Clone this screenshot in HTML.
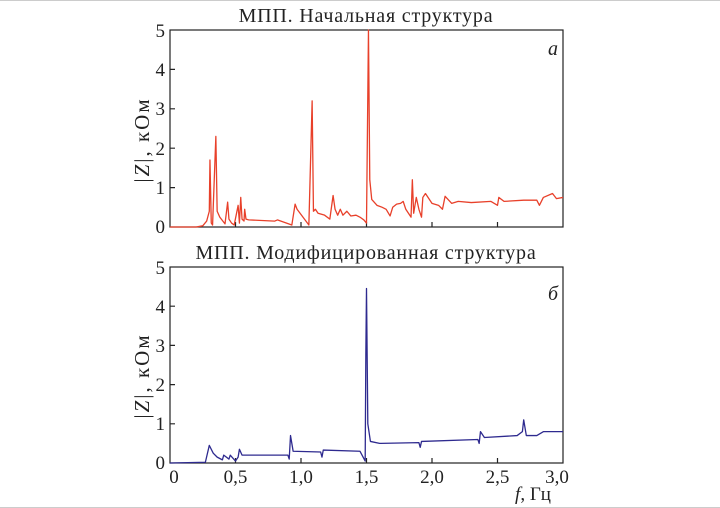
<!DOCTYPE html>
<html><head><meta charset="utf-8"><style>
html,body{margin:0;padding:0;background:#fff}
svg{display:block;font-family:"Liberation Serif","DejaVu Serif",serif}
</style></head><body>
<svg width="720" height="508" viewBox="0 0 720 508" xmlns="http://www.w3.org/2000/svg">
<rect x="0" y="0" width="720" height="508" fill="#fff"/>
<line x1="0" y1="0.5" x2="720" y2="0.5" stroke="#ccc"/>
<line x1="0" y1="507.5" x2="720" y2="507.5" stroke="#ccc"/>
<g font-size="20" fill="#222" letter-spacing="0.8">
<text x="366" y="22" text-anchor="middle">МПП. Начальная структура</text>
<text x="366" y="259" text-anchor="middle">МПП. Модифицированная структура</text>
</g>
<g stroke="#222" stroke-width="1.2" fill="none">
<rect x="170" y="30" width="393" height="197"/>
<path d="M235.5,227v-5M301,227v-5M366.5,227v-5M432,227v-5M497.5,227v-5"/>
<path d="M170,187.6h5M170,148.2h5M170,108.8h5M170,69.4h5"/>
<rect x="170" y="267" width="393" height="196"/>
<path d="M235.5,463v-5M301,463v-5M366.5,463v-5M432,463v-5M497.5,463v-5"/>
<path d="M170,423.8h5M170,384.6h5M170,345.4h5M170,306.2h5"/>
</g>
<g font-size="19" fill="#222" text-anchor="end">
<text x="165" y="233">0</text><text x="165" y="194">1</text><text x="165" y="155">2</text><text x="165" y="115">3</text><text x="165" y="76">4</text><text x="165" y="37">5</text>
<text x="165" y="469">0</text><text x="165" y="430">1</text><text x="165" y="391">2</text><text x="165" y="352">3</text><text x="165" y="313">4</text><text x="165" y="274">5</text>
</g>
<g font-size="19" fill="#222" text-anchor="middle">
<text x="174" y="483">0</text><text x="235.5" y="483">0,5</text><text x="301" y="483">1,0</text><text x="366.5" y="483">1,5</text><text x="432" y="483">2,0</text><text x="497.5" y="483">2,5</text><text x="557" y="483">3,0</text>
</g>
<text x="533" y="500" font-size="19" fill="#222" text-anchor="middle"><tspan font-style="italic">f</tspan>, Гц</text>
<text transform="translate(149,140) rotate(-90)" font-size="21" letter-spacing="2" fill="#222" text-anchor="middle">|<tspan font-style="italic">Z</tspan>|, кОм</text>
<text transform="translate(149,376) rotate(-90)" font-size="21" letter-spacing="2" fill="#222" text-anchor="middle">|<tspan font-style="italic">Z</tspan>|, кОм</text>
<text x="548" y="55" font-size="20" font-style="italic" fill="#222">a</text>
<text x="548" y="300" font-size="20" font-style="italic" fill="#222">б</text>
<g transform="translate(170,227) scale(131,-39.4)">
<polyline fill="none" stroke="#e8402a" stroke-width="1.3" vector-effect="non-scaling-stroke" stroke-linejoin="round" points="0,0 0.2,0 0.25,0.03 0.28,0.15 0.3,0.4 0.305,1.7 0.315,0.1 0.325,0.05 0.35,2.3 0.36,0.4 0.38,0.25 0.42,0.08 0.44,0.63 0.45,0.2 0.47,0.1 0.49,0.05 0.52,0.55 0.53,0.1 0.54,0.75 0.55,0.2 0.565,0.15 0.57,0.45 0.58,0.2 0.6,0.18 0.8,0.15 0.82,0.18 0.93,0.05 0.955,0.58 0.97,0.45 1.06,0.05 1.085,3.2 1.095,0.4 1.11,0.45 1.13,0.35 1.18,0.3 1.22,0.2 1.245,0.8 1.26,0.45 1.28,0.3 1.3,0.45 1.32,0.3 1.35,0.4 1.38,0.28 1.42,0.3 1.45,0.25 1.48,0.18 1.5,0.1 1.515,5 1.525,1.2 1.54,0.7 1.58,0.55 1.62,0.5 1.65,0.45 1.68,0.28 1.7,0.5 1.73,0.58 1.76,0.6 1.78,0.65 1.8,0.45 1.84,0.25 1.85,1.2 1.86,0.35 1.88,0.75 1.9,0.45 1.92,0.25 1.93,0.75 1.95,0.85 2,0.6 2.05,0.55 2.08,0.45 2.1,0.78 2.15,0.6 2.2,0.65 2.3,0.62 2.45,0.65 2.5,0.55 2.51,0.75 2.55,0.65 2.7,0.68 2.8,0.68 2.82,0.55 2.85,0.75 2.92,0.85 2.95,0.72 3,0.75"/>
</g>
<g transform="translate(170,463) scale(131,-39.2)">
<polyline fill="none" stroke="#2e2a8f" stroke-width="1.3" vector-effect="non-scaling-stroke" stroke-linejoin="round" points="0,0 0.27,0.02 0.3,0.45 0.33,0.25 0.36,0.15 0.4,0.08 0.41,0.2 0.45,0.1 0.46,0.2 0.5,0.05 0.52,0.15 0.53,0.35 0.55,0.2 0.9,0.2 0.91,0.1 0.92,0.7 0.94,0.3 1.15,0.28 1.16,0.15 1.17,0.33 1.45,0.3 1.49,0.05 1.495,2.8 1.5,4.45 1.51,1 1.53,0.55 1.6,0.5 1.9,0.52 1.91,0.4 1.92,0.55 2.35,0.6 2.36,0.5 2.37,0.8 2.4,0.65 2.65,0.7 2.69,0.8 2.7,1.1 2.72,0.7 2.8,0.7 2.85,0.8 3,0.8"/>
</g>
</svg>
</body></html>
